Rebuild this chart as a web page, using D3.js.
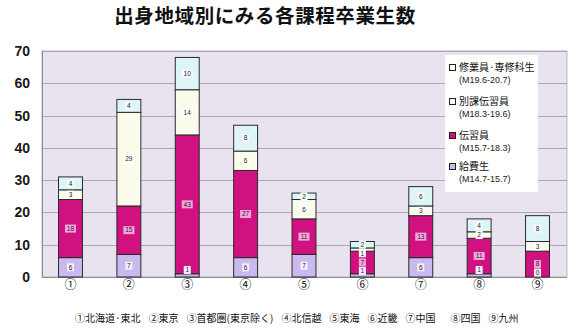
<!DOCTYPE html>
<html>
<head>
<meta charset="utf-8">
<script src="https://cdn.jsdelivr.net/npm/d3@7"></script>
<style>
  html, body { margin: 0; padding: 0; background: #ffffff; }
  svg { display: block; }
</style>
</head>
<body>
<svg id="chart" width="580" height="335"></svg>
<script>
// Graduates by home region, stacked by course (bottom → top)
const regionTicks = ["①", "②", "③", "④", "⑤", "⑥", "⑦", "⑧", "⑨"];
const regionNames = ["北海道·東北", "東京", "首都圏(東京除く)", "北信越", "東海", "近畿", "中国", "四国", "九州"];

const kyuhisei   = [6, 7, 1, 6, 7, 1, 6, 1, 0];      // 給費生
const denshuin   = [18, 15, 43, 27, 11, 7, 13, 11, 8]; // 伝習員
const bekka      = [3, 29, 14, 6, 6, 1, 3, 2, 3];     // 別課伝習員
const shugyoin   = [4, 4, 10, 8, 2, 2, 6, 4, 8];      // 修業員・専修科生

const seriesNames = ["給費生", "伝習員", "別課伝習員", "修業員·専修科生"];
const seriesPeriods = ["(M14.7-15.7)", "(M15.7-18.3)", "(M18.3-19.6)", "(M19.6-20.7)"];
const yTicks = [0, 10, 20, 30, 40, 50, 60, 70];

const colors = ["#c9b9ee", "#cf1280", "#fbfbec", "#def5f7"];
const labelBg = ["#f4f0fc", "#f6a6dc", "#ffffff", "#f6fdfd"];

const rows = regionTicks.map((t, i) => ({
  tick: t,
  s0: kyuhisei[i], s1: denshuin[i], s2: bekka[i], s3: shugyoin[i]
}));
const keys = ["s0", "s1", "s2", "s3"];
const stacked = d3.stack().keys(keys)(rows);

const svg = d3.select("#chart");
const plot = { left: 42, right: 567, top: 51, bottom: 277 };

const x = d3.scaleBand().domain(regionTicks).range([plot.left - 1, plot.right]).paddingInner(0.59).paddingOuter(0.3);
const y = d3.scaleLinear().domain([0, 70]).range([plot.bottom, plot.top]);

// Title
svg.append("text")
  .attr("x", 265).attr("y", 23)
  .attr("text-anchor", "middle")
  .attr("font-family", "'Noto Sans CJK JP', sans-serif")
  .attr("font-weight", 700)
  .attr("font-size", 19.5)
  .attr("letter-spacing", 0.6)
  .attr("fill", "#111")
  .text("出身地域別にみる各課程卒業生数");

// Plot background
svg.append("rect")
  .attr("x", plot.left).attr("y", plot.top)
  .attr("width", plot.right - plot.left).attr("height", plot.bottom - plot.top)
  .attr("fill", "#e8e3ef")
  .attr("stroke", "#b9b6c2").attr("stroke-width", 1);

// Grid lines
svg.append("g").selectAll("line")
  .data(yTicks.filter(v => v > 0))
  .join("line")
  .attr("x1", plot.left).attr("x2", plot.right)
  .attr("y1", d => Math.round(y(d)) + 0.5).attr("y2", d => Math.round(y(d)) + 0.5)
  .attr("stroke", "#a9a7b1").attr("stroke-width", 1);

// Y axis labels
const yAxis = svg.append("g")
  .attr("transform", `translate(${plot.left - 6},0)`)
  .call(d3.axisLeft(y).tickValues(yTicks).tickSize(0).tickPadding(6));
yAxis.select(".domain").remove();
yAxis.selectAll("text")
  .attr("font-family", "'Liberation Sans', Arial, sans-serif")
  .attr("font-weight", 700)
  .attr("font-size", 14)
  .attr("fill", "#1a1a1a");

// Baseline / left edge
svg.append("line")
  .attr("x1", plot.left).attr("x2", plot.right)
  .attr("y1", plot.bottom + 0.5).attr("y2", plot.bottom + 0.5)
  .attr("stroke", "#8f8c98");
svg.append("line")
  .attr("x1", plot.left + 0.5).attr("x2", plot.left + 0.5)
  .attr("y1", plot.top).attr("y2", plot.bottom)
  .attr("stroke", "#8f8c98");

// Stacked bars
const layers = svg.append("g").selectAll("g")
  .data(stacked)
  .join("g")
  .attr("fill", (d, i) => colors[i]);

layers.selectAll("rect")
  .data(d => d)
  .join("rect")
  .attr("x", d => x(d.data.tick))
  .attr("y", d => y(d[1]))
  .attr("width", x.bandwidth())
  .attr("height", d => y(d[0]) - y(d[1]))
  .attr("stroke", "#2a2a2a")
  .attr("stroke-width", 1);

// Segment value labels: centred in each segment, pushed apart inside a bar
const labels = svg.append("g");
regionTicks.forEach((t, bi) => {
  const items = [];
  for (let si = 3; si >= 0; si--) {
    const d = stacked[si][bi];
    let cy = (y(d[0]) + y(d[1])) / 2;
    if (si === 0) cy = Math.min(cy, y(d[0]) - 7);
    items.push({ si, v: d[1] - d[0], cy });
  }
  for (let k = 1; k < items.length; k++) {
    if (items[k].cy - items[k - 1].cy < 8.5) {
      items[k].cy = items[k - 1].cy + 8.5;
    }
  }
  const cx = x(t) + x.bandwidth() / 2;
  items.forEach(it => {
    const txt = String(it.v);
    const w = txt.length * 4 + 3;
    labels.append("rect")
      .attr("x", cx - w / 2).attr("y", it.cy - 4)
      .attr("width", w).attr("height", 8)
      .attr("fill", labelBg[it.si]);
    labels.append("text")
      .attr("x", cx).attr("y", it.cy + 2.3)
      .attr("text-anchor", "middle")
      .attr("font-family", "'Liberation Sans', Arial, sans-serif")
      .attr("font-size", 6.5)
      .attr("fill", "#222")
      .text(txt);
  });
});

// X axis tick labels
const xAxis = svg.append("g")
  .attr("transform", `translate(0,${plot.bottom})`)
  .call(d3.axisBottom(x).tickSize(0).tickPadding(3));
xAxis.select(".domain").remove();
xAxis.selectAll("text")
  .attr("font-family", "'Noto Sans CJK JP', sans-serif")
  .attr("font-size", 12)
  .attr("fill", "#111");

// Legend
const lg = svg.append("g");
lg.append("rect")
  .attr("x", 445).attr("y", 55).attr("width", 93).attr("height", 137)
  .attr("fill", "#ffffff");
const legendOrder = [3, 2, 1, 0];
const legendRowY = [70, 104, 138, 169];
legendOrder.forEach((si, k) => {
  const ly = legendRowY[k];
  lg.append("rect")
    .attr("x", 449.5).attr("y", ly - 5.5).attr("width", 6).attr("height", 6)
    .attr("fill", si === 1 ? colors[1] : (si === 0 ? colors[0] : "#ffffff"))
    .attr("stroke", "#222").attr("stroke-width", 1);
  lg.append("text")
    .attr("x", 459).attr("y", ly + 1)
    .attr("font-family", "'Noto Sans CJK JP', sans-serif")
    .attr("font-size", 10)
    .attr("fill", "#111")
    .text(seriesNames[si]);
  lg.append("text")
    .attr("x", 459).attr("y", ly + 13)
    .attr("font-family", "'Liberation Sans', Arial, sans-serif")
    .attr("font-size", 9)
    .attr("fill", "#222")
    .text(seriesPeriods[si]);
});

// Region key under the chart
const key = svg.append("text")
  .attr("x", 75).attr("y", 322)
  .attr("font-family", "'Noto Sans CJK JP', sans-serif")
  .attr("font-size", 10)
  .attr("fill", "#111");
regionTicks.forEach((t, i) => {
  key.append("tspan")
    .attr("dx", i === 0 ? 0 : (i === 7 ? 15 : 8))
    .text(t + regionNames[i]);
});
</script>
</body>
</html>
